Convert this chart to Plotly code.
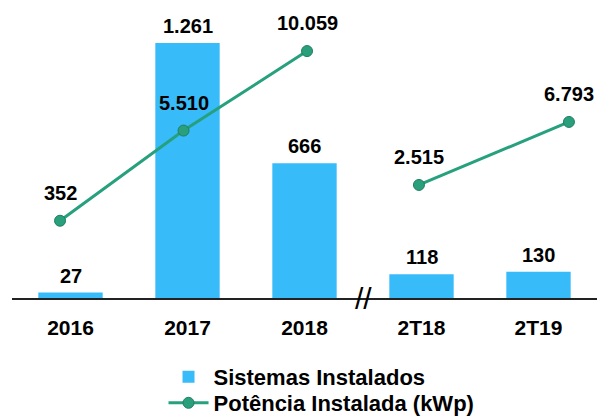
import plotly.graph_objects as go

# ---- data ----
categories = ["2016", "2017", "2018", "2T18", "2T19"]
sistemas = [27, 1261, 666, 118, 130]
pot_annual_cats = ["2016", "2017", "2018"]
pot_annual = [352, 5510, 10059]
pot_quarter_cats = ["2T18", "2T19"]
pot_quarter = [2515, 6793]

BAR_COLOR = "#37BBF9"
LINE_COLOR = "#26A07D"
FONT = "Liberation Sans, Arial, sans-serif"


def fmt(v):
    return f"{v:,}".replace(",", ".")


def idx(c):
    return categories.index(c)


fig = go.Figure()

fig.add_trace(go.Bar(
    x=categories, y=sistemas, name="Sistemas Instalados",
    marker=dict(color=BAR_COLOR, line=dict(width=0)),
    xaxis="x", yaxis="y", hoverinfo="skip", legend="legend",
))

marker_style = dict(size=11, color="#2A9F7B", line=dict(color="#1E7F62", width=1))

fig.add_trace(go.Scatter(
    x=pot_annual_cats, y=pot_annual, name="Potência Instalada (kWp)",
    mode="lines+markers", line=dict(color=LINE_COLOR, width=3),
    marker=marker_style, xaxis="x2", yaxis="y2", hoverinfo="skip",
    legend="legend2",
))
fig.add_trace(go.Scatter(
    x=pot_quarter_cats, y=pot_quarter, name="Potência Instalada (kWp)",
    mode="lines+markers", line=dict(color=LINE_COLOR, width=3),
    marker=marker_style, xaxis="x3", yaxis="y3", hoverinfo="skip",
    showlegend=False,
))

label_font = dict(family=FONT, size=20, color="black", weight="bold")
annotations = []
for c, v in zip(categories, sistemas):
    annotations.append(dict(x=idx(c), y=v, xref="x", yref="y", text=fmt(v),
                            showarrow=False, yanchor="bottom", yshift=4,
                            font=label_font))
for c, v in zip(pot_annual_cats, pot_annual):
    annotations.append(dict(x=idx(c), y=v, xref="x2", yref="y2", text=fmt(v),
                            showarrow=False, yanchor="bottom", yshift=15,
                            font=label_font))
for c, v in zip(pot_quarter_cats, pot_quarter):
    annotations.append(dict(x=idx(c), y=v, xref="x3", yref="y3", text=fmt(v),
                            showarrow=False, yanchor="bottom", yshift=15,
                            font=label_font))
# axis break marker between 2018 and 2T18
annotations.append(dict(x=2.5, y=0, xref="x", yref="y", text="//",
                        showarrow=False, yanchor="middle", xanchor="center",
                        font=dict(family=FONT, size=30, color="black")))

legend_common = dict(
    orientation="v", x=0.259, xanchor="left", yref="container", yanchor="middle",
    font=dict(family=FONT, size=22, color="black", weight="bold"),
    itemwidth=40, bgcolor="rgba(0,0,0,0)",
)

fig.update_layout(
    width=600, height=416,
    margin=dict(l=12, r=3, t=20, b=118, autoexpand=False),
    paper_bgcolor="white", plot_bgcolor="white",
    font=dict(family=FONT, color="black"),
    bargap=0.45,
    showlegend=True,
    legend=dict(legend_common, y=1 - 377 / 416),
    legend2=dict(legend_common, y=1 - 403 / 416),
    xaxis=dict(
        type="category", categoryorder="array", categoryarray=categories,
        range=[-0.5, 4.5], showgrid=False, zeroline=False,
        showline=True, linecolor="#222222", linewidth=1.5,
        ticks="", ticklabelstandoff=10,
        tickfont=dict(family=FONT, size=21, color="black", weight="bold"),
        fixedrange=True,
    ),
    xaxis2=dict(
        type="category", categoryorder="array", categoryarray=categories,
        overlaying="x", range=[-0.389, 4.348], visible=False, fixedrange=True,
    ),
    xaxis3=dict(
        type="category", categoryorder="array", categoryarray=categories,
        overlaying="x", range=[0.287, 4.187], visible=False, fixedrange=True,
    ),
    yaxis=dict(range=[0, 1374.7], visible=False, fixedrange=True),
    yaxis2=dict(range=[-4068, 11836], overlaying="y", visible=False, fixedrange=True),
    yaxis3=dict(range=[-5160, 13714], overlaying="y", visible=False, fixedrange=True),
    annotations=annotations,
)

fig.write_html(
    "out.html",
    config={"displayModeBar": False},
    post_script="document.body.style.margin='0';document.body.style.overflow='hidden';",
)
